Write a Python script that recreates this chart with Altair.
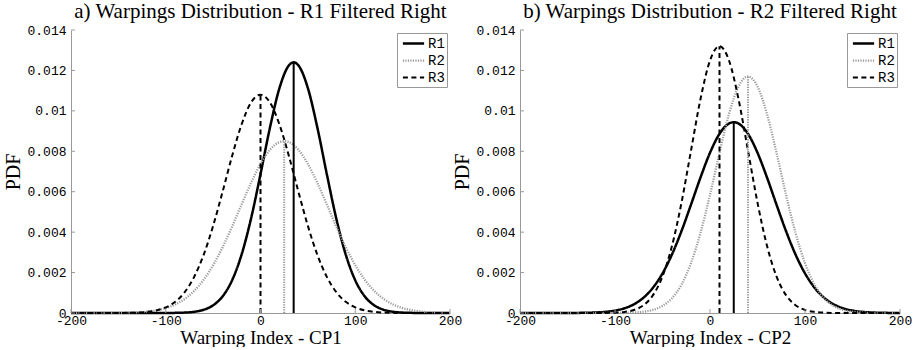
import altair as alt
import pandas as pd

# ---------------- data ----------------
X = list(range(-200, 201, 10))
SERIES = ["R1", "R2", "R3"]

A_R1 = [0, 0, 0, 0, 0, 0, 0, 0, 0, 0,
        0.0000019, 0.0000066, 0.0000211, 0.0000608, 0.000160, 0.000381, 0.000823, 0.001617, 0.002883, 0.004670,
        0.006868, 0.009174, 0.011125, 0.012251, 0.012251, 0.011125, 0.009174, 0.006868, 0.004670, 0.002883,
        0.001617, 0.000823, 0.000381, 0.000160, 0.0000608, 0.0000211, 0.0000066, 0.0000019, 0, 0, 0]
A_R2 = [0, 0, 0.0000006, 0.0000015, 0.0000036, 0.0000081, 0.0000174, 0.0000361, 0.0000714, 0.000135,
        0.000244, 0.000420, 0.000693, 0.001093, 0.001645, 0.002366, 0.003253, 0.004274, 0.005364, 0.006434,
        0.007374, 0.008076, 0.008452, 0.008452, 0.008076, 0.007374, 0.006434, 0.005364, 0.004274, 0.003253,
        0.002366, 0.001645, 0.001093, 0.000693, 0.000420, 0.000244, 0.000135, 0.0000714, 0.0000361, 0.0000174,
        0.0000081]
A_R3 = [0, 0, 0, 0, 0,
        0.0000028, 0.0000081, 0.0000218, 0.0000545, 0.000127, 0.000275, 0.000552, 0.001029, 0.001786, 0.002879,
        0.004312, 0.006001, 0.007761, 0.009325, 0.010411, 0.0108, 0.010411, 0.009325, 0.007761, 0.006001,
        0.004312, 0.002879, 0.001786, 0.001029, 0.000552, 0.000275, 0.000127, 0.0000545, 0.0000218, 0.0000081,
        0.0000028, 0, 0, 0, 0, 0]

B_R1 = [0, 0, 0, 0,
        0.0000007, 0.0000018, 0.0000047, 0.0000115, 0.0000265, 0.0000580, 0.000120, 0.000234, 0.000434, 0.000758,
        0.001254, 0.001960, 0.002899, 0.004054, 0.005361, 0.006704, 0.007927, 0.008865, 0.009374, 0.009374,
        0.008865, 0.007927, 0.006704, 0.005361, 0.004054, 0.002899, 0.001960, 0.001254, 0.000758, 0.000434,
        0.000234, 0.000120, 0.0000580, 0.0000265, 0.0000115, 0.0000047, 0.0000018]
B_R2 = [0, 0, 0, 0, 0, 0, 0, 0, 0,
        0.0000007, 0.0000024, 0.0000078, 0.0000231, 0.0000624, 0.000155, 0.000352, 0.000735, 0.001405, 0.002466,
        0.003968, 0.005856, 0.007928, 0.009841, 0.011205, 0.0117, 0.011205, 0.009841, 0.007928, 0.005856,
        0.003968, 0.002466, 0.001405, 0.000735, 0.000352, 0.000155, 0.0000624, 0.0000231, 0.0000078, 0.0000024,
        0.0000007, 0]
B_R3 = [0, 0, 0, 0, 0, 0, 0, 0,
        0.0000012, 0.0000047, 0.0000166, 0.0000529, 0.000151, 0.000386, 0.000883, 0.001810, 0.003322, 0.005459,
        0.008033, 0.010585, 0.012491, 0.0132, 0.012491, 0.010585, 0.008033, 0.005459, 0.003322, 0.001810,
        0.000883, 0.000386, 0.000151, 0.0000529, 0.0000166, 0.0000047, 0.0000012, 0, 0, 0, 0, 0, 0]

A_MEAN = [35, 25, 0]
A_PEAK = [0.0124, 0.0085, 0.0108]
B_MEAN = [25, 40, 10]
B_PEAK = [0.00944, 0.0117, 0.0132]

Y_TICKS = [0, 0.002, 0.004, 0.006, 0.008, 0.01, 0.012, 0.014]
X_TICKS = [-200, -100, 0, 100, 200]

TITLES = ["a) Warpings Distribution - R1 Filtered Right",
          "b) Warpings Distribution - R2 Filtered Right"]
XTITLES = ["Warping Index - CP1", "Warping Index - CP2"]

# ---------------- styling ----------------
COLORS = ["#000000", "#9a9a9a", "#000000"]
DASHES = [[1, 0], [1.2, 1.3], [5, 3.5]]
WIDTHS = [2.5, 2.0, 3.0]
H = 283
SERIF = "Liberation Serif"
MONO = "Liberation Mono"


def build_frames(curves, means, peaks):
    rows, mrows = [], []
    for s, ys, m, p in zip(SERIES, curves, means, peaks):
        pts = dict(zip(X, ys))
        pts[m] = p
        for xv in sorted(pts):
            rows.append({"series": s, "x": xv, "y": pts[xv]})
        mrows.append({"series": s, "x": m, "y0": 0, "y1": p})
    return pd.DataFrame(rows), pd.DataFrame(mrows)


def panel(curves, means, peaks, title, xtitle, width):
    df, dm = build_frames(curves, means, peaks)
    xs = alt.Scale(domain=[-200, 200], nice=False, zero=False)
    ysc = alt.Scale(domain=[0, 0.014], nice=False)
    cscale = alt.Scale(domain=SERIES, range=COLORS)
    dscale = alt.Scale(domain=SERIES, range=DASHES)
    wscale = alt.Scale(domain=SERIES, range=WIDTHS)
    leg = alt.Legend(title=None, orient="top-right", offset=3, padding=2,
                     strokeColor="#999999", fillColor="white",
                     symbolType="M-1.5,0H1.5", symbolSize=200, rowPadding=1,
                     symbolOffset=6, labelOffset=6,
                     labelFont=MONO, labelFontSize=14, labelColor="black")

    lines = alt.Chart(df).mark_line(interpolate="monotone").encode(
        x=alt.X("x:Q", scale=xs, title=xtitle,
                axis=alt.Axis(values=X_TICKS, labelExpr="'' + datum.value",
                              labelFlush=False, labelOverlap=False,
                              labelPadding=1, titlePadding=1,
                              titleFontSize=19)),
        y=alt.Y("y:Q", scale=ysc, title="PDF",
                axis=alt.Axis(values=Y_TICKS, format="~g", labelPadding=5,
                              labelOverlap=False, titlePadding=3)),
        color=alt.Color("series:N", scale=cscale, legend=leg),
        strokeDash=alt.StrokeDash("series:N", scale=dscale, legend=leg),
        strokeWidth=alt.StrokeWidth("series:N", scale=wscale, legend=leg),
    )

    rules = alt.Chart(dm).mark_rule(strokeWidth=2).encode(
        x=alt.X("x:Q", scale=xs),
        y=alt.Y("y0:Q", scale=ysc),
        y2="y1:Q",
        color=alt.Color("series:N", scale=cscale, legend=leg),
        strokeDash=alt.StrokeDash("series:N", scale=dscale, legend=leg),
    )

    yt = alt.Chart(pd.DataFrame({"t": Y_TICKS})).mark_rule(
        color="#999999", strokeWidth=1).encode(
        y=alt.Y("t:Q", scale=ysc), x=alt.value(0), x2=alt.value(4))
    xt = alt.Chart(pd.DataFrame({"t": X_TICKS})).mark_rule(
        color="#999999", strokeWidth=1).encode(
        x=alt.X("t:Q", scale=xs), y=alt.value(H), y2=alt.value(H - 4))

    return alt.layer(lines, rules, yt, xt).properties(
        width=width, height=H,
        title=alt.TitleParams(title, font=SERIF, fontSize=21, fontWeight="normal",
                              color="black", anchor="middle", frame="group",
                              offset=2),
    )


pa = panel([A_R1, A_R2, A_R3], A_MEAN, A_PEAK, TITLES[0], XTITLES[0], 379)
pb = panel([B_R1, B_R2, B_R3], B_MEAN, B_PEAK, TITLES[1], XTITLES[1], 380)

chart = alt.hconcat(pa, pb, spacing=70, bounds="flush").resolve_scale(
    color="independent", strokeDash="independent", strokeWidth="independent"
).resolve_legend(
    color="independent", strokeDash="independent", strokeWidth="independent"
).properties(
    padding={"left": 3, "top": 1, "right": 0, "bottom": 0},
    background="white",
).configure_view(stroke=None).configure_axis(
    domainColor="#999999", ticks=False, grid=False,
    labelFont=MONO, labelFontSize=13, labelColor="black",
    titleFont=SERIF, titleFontSize=20, titleFontWeight="normal", titleColor="black",
)

chart.save("out.html", embed_options={"renderer": "svg", "actions": False})
